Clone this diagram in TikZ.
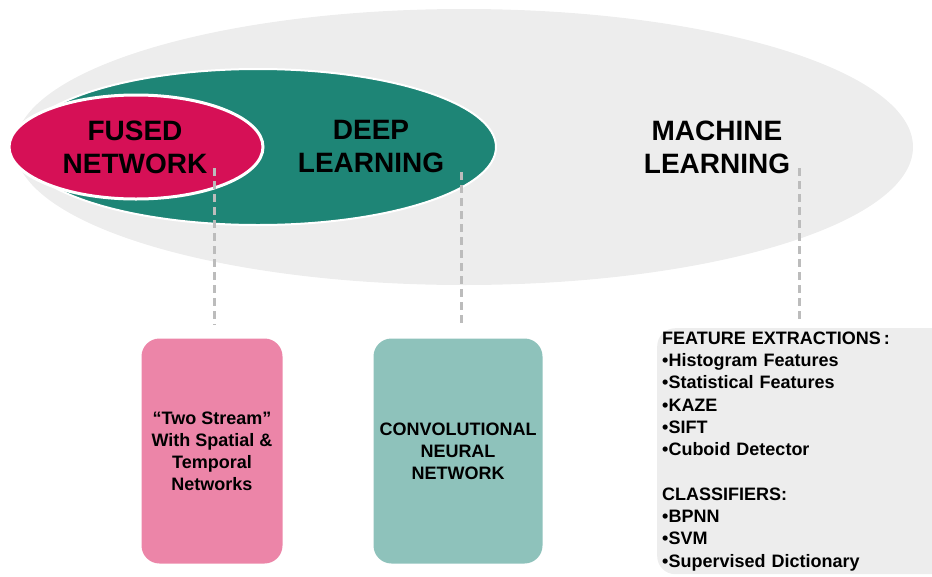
\documentclass[tikz,border=0pt]{standalone}
\usepackage{fontspec}
\setmainfont{Liberation Sans}
\usepackage{xcolor}
\usepackage{tikz}
\usetikzlibrary{positioning,shapes.geometric}

\definecolor{fusedred}{RGB}{214,16,86}
\definecolor{deepteal}{RGB}{30,133,118}
\definecolor{mlgray}{RGB}{237,237,237}
\definecolor{pinkbox}{RGB}{236,133,168}
\definecolor{tealbox}{RGB}{142,194,187}
\definecolor{dashgray}{RGB}{188,188,188}

\tikzset{
    biglabel/.style={font=\bfseries\fontsize{28}{33}\selectfont, align=center, text=black},
    catbox/.style={rounded corners=18pt, minimum width=141pt, minimum height=225pt,
        align=center, font=\bfseries\fontsize{18}{22}\selectfont},
    featbox/.style={fill=mlgray, rounded corners=18pt, anchor=north west,
        minimum height=244pt, text width=290pt, inner xsep=5pt, align=left,
        font=\bfseries\fontsize{18}{22.3}\selectfont},
    guide/.style={dashgray, line width=3pt, dash pattern=on 8pt off 5pt},
}

\begin{document}
\begin{tikzpicture}[x=1pt,y=-1pt]
    \useasboundingbox (0,0) rectangle (932,576);
    \clip (0,0) rectangle (932,576);

    % Ellipsen
    \fill[mlgray] (464,147) ellipse [x radius=449, y radius=138];
    \filldraw[fill=deepteal, draw=white, line width=2pt] (258,147) ellipse [x radius=238, y radius=78];
    \filldraw[fill=fusedred, draw=white, line width=3pt] (136,147) ellipse [x radius=127, y radius=52];

    % Labels
    \node[biglabel] (fused) at (135,147) {FUSED\\NETWORK};
    \node[biglabel] (deep) at (371,147) {DEEP\\LEARNING};
    \node[biglabel] (ml) at (717,147) {MACHINE\\LEARNING};

    % Boxen
    \node[catbox, fill=pinkbox] (twostream) at (212,451) {``Two Stream''\\With Spatial \&\\Temporal\\Networks};
    \node[catbox, fill=tealbox, minimum width=169pt] (cnn) at (458,451) {CONVOLUTIONAL\\NEURAL\\NETWORK};
    \node[featbox] (feat) at (657,328) {FEATURE EXTRACTIONS\,:\\
        •Histogram Features\\
        •Statistical Features\\
        •KAZE\\
        •SIFT\\
        •Cuboid Detector\\[22.3pt]
        CLASSIFIERS:\\
        •BPNN\\
        •SVM\\
        •Supervised Dictionary};

    % Stippellijnen
    \coordinate (fusedtick) at (214,168);
    \coordinate (deeptick) at (461,172);
    \coordinate (mltick) at (799,168);
    \draw[guide, shorten >=13pt] (fusedtick) -- (fusedtick |- twostream.north);
    \draw[guide, shorten >=13pt] (deeptick) -- (deeptick |- cnn.north);
    \draw[guide, shorten >=5pt] (mltick) -- (mltick |- feat.north);
\end{tikzpicture}
\end{document}
